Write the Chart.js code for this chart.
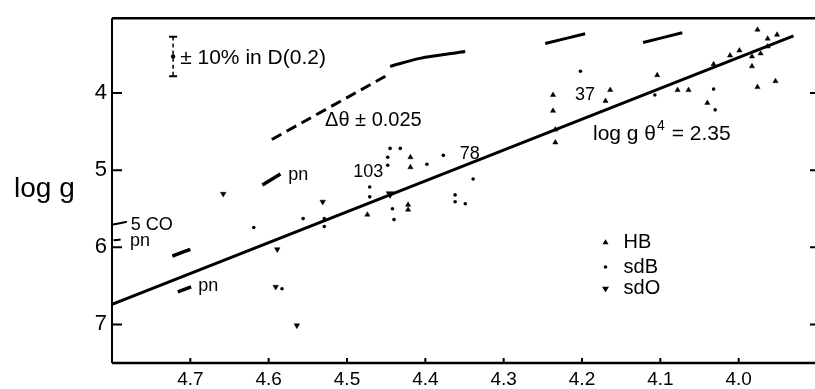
<!DOCTYPE html>
<html>
<head>
<meta charset="utf-8">
<script src="https://cdn.jsdelivr.net/npm/chart.js@4.4.1/dist/chart.umd.min.js"></script>
<style>
  html, body { margin: 0; padding: 0; background: #fff; overflow: hidden; }
  #wrap { width: 830px; height: 389px; }
</style>
</head>
<body>
<div id="wrap"><canvas id="c" width="830" height="389"></canvas></div>
<script>
// ---- axis ticks ----
const xTicks = [4.7, 4.6, 4.5, 4.4, 4.3, 4.2, 4.1, 4.0];
const yTicks = [4, 5, 6, 7];

// ---- HB stars (triangles): log Te, log g ----
const hbT = [4.237, 4.237, 4.234, 4.234, 4.170, 4.164, 4.104, 4.078, 4.064, 4.011, 3.999, 4.032, 3.983, 3.976, 3.953, 4.040, 3.951, 3.963, 3.963, 3.983, 3.972, 4.419, 4.419, 4.422, 4.422, 4.474, 3.976];
const hbG = [4.026, 4.231, 4.474, 4.641, 4.103, 3.962, 3.769, 3.962, 3.962, 3.513, 3.449, 3.628, 3.654, 3.923, 3.846, 4.128, 3.244, 3.295, 3.397, 3.526, 3.487, 4.833, 4.962, 5.449, 5.513, 5.577, 3.179];

// ---- sdB stars (dots) ----
const sdbT = [4.202, 4.107, 4.032, 4.030, 4.445, 4.432, 4.448, 4.398, 4.448, 4.471, 4.471, 4.339, 4.362, 4.349, 4.362, 4.529, 4.529, 4.556, 4.619, 4.442, 4.440, 4.377, 4.583];
const sdbG = [3.718, 4.026, 3.949, 4.218, 4.718, 4.718, 4.833, 4.923, 4.936, 5.218, 5.346, 5.115, 5.321, 5.436, 5.410, 5.628, 5.731, 5.628, 5.744, 5.500, 5.641, 4.808, 6.538];

// ---- sdO stars (inverted triangles) ----
const sdoT = [4.658, 4.531, 4.589, 4.591, 4.564, 4.445];
const sdoG = [5.308, 5.410, 6.026, 6.513, 7.013, 5.308];

// ---- fitted relation log g theta^4 = 2.35 ----
const fitT = [4.80, 3.93];
const fitG = [6.74, 3.26];

// ---- Delta theta = +-0.025 shifts (tracks) ----
const trackDashT = [4.596, 4.451];
const trackDashG = [4.603, 3.782];
const trackAT = [4.445, 4.407, 4.349];
const trackAG = [3.654, 3.551, 3.462];
const trackBT = [4.247, 4.196];
const trackBG = [3.359, 3.231];
const trackCT = [4.122, 4.072];
const trackCG = [3.346, 3.218];

// ---- planetary nuclei (pn) short tracks ----
const pn1T = [4.608, 4.585], pn1G = [5.192, 5.051];
const pn2T = [4.716, 4.699], pn2G = [6.577, 6.513];
const pn3T = [4.723, 4.700], pn3G = [6.115, 6.026];
const pn4T = [4.799, 4.781], pn4G = [5.705, 5.670];
const pn5T = [4.798, 4.789], pn5G = [5.910, 5.900];

// ---- error bar: +-10% in D(0.2) ----
const errT = [4.722, 4.722];
const errG = [3.269, 3.782];
const errMidG = [3.526];

const pts = (xs, ys) => xs.map((x, i) => ({ x: x, y: ys[i] }));

const lineDs = (xs, ys, w, dash) => ({
  type: 'line', data: pts(xs, ys), borderColor: '#000', borderWidth: w,
  borderDash: dash || [], pointRadius: 0, tension: 0.3, fill: false, showLine: true
});

const textPlugin = {
  id: 'decor',
  afterDraw(chart) {
    const ctx = chart.ctx, a = chart.chartArea;
    const xs = chart.scales.x, ys = chart.scales.y;
    const X = v => xs.getPixelForValue(v), Y = v => ys.getPixelForValue(v);
    ctx.save();
    ctx.strokeStyle = '#000'; ctx.fillStyle = '#000';
    // frame
    ctx.lineWidth = 2.5;
    ctx.beginPath();
    ctx.moveTo(a.left, a.top); ctx.lineTo(a.right, a.top);
    ctx.moveTo(a.left, a.bottom); ctx.lineTo(a.right, a.bottom);
    ctx.stroke();
    ctx.lineWidth = 2;
    ctx.beginPath(); ctx.moveTo(a.left, a.top); ctx.lineTo(a.left, a.bottom); ctx.stroke();
    ctx.beginPath(); ctx.moveTo(a.right, a.top); ctx.lineTo(a.right, a.bottom); ctx.stroke();
    // inward ticks
    ctx.lineWidth = 2;
    ctx.beginPath();
    yTicks.forEach(v => {
      const y = Y(v);
      ctx.moveTo(a.left, y); ctx.lineTo(a.left + 10, y);
      ctx.moveTo(a.right, y); ctx.lineTo(a.right - 7, y);
    });
    xTicks.forEach(v => {
      const x = X(v);
      ctx.moveTo(x, a.bottom); ctx.lineTo(x, a.bottom - 5);
    });
    ctx.stroke();
    // error bar caps
    ctx.lineWidth = 2;
    ctx.beginPath();
    const ex = X(errT[0]);
    ctx.moveTo(ex - 4, Y(errG[0])); ctx.lineTo(ex + 4, Y(errG[0]));
    ctx.moveTo(ex - 4, Y(errG[1])); ctx.lineTo(ex + 4, Y(errG[1]));
    ctx.stroke();

    const font = 'Liberation Sans, Arial, sans-serif';
    ctx.textBaseline = 'middle'; ctx.textAlign = 'left';
    const t = (s, x, y, size) => { ctx.font = size + 'px ' + font; ctx.fillText(s, X(x), Y(y)); };
    t('\u00B1 10% in D(0.2)', 4.713, 3.551, 21);
    t('\u0394\u03B8 \u00B1 0.025', 4.528, 4.359, 20);
    // log g theta^4 = 2.35
    ctx.font = '21px ' + font;
    let px = X(4.186), py = Y(4.538);
    const s1 = 'log g \u03B8';
    ctx.fillText(s1, px, py);
    px += ctx.measureText(s1).width;
    ctx.font = '14px ' + font;
    ctx.fillText('4', px + 1, py - 8);
    px += ctx.measureText('4').width + 2;
    ctx.font = '21px ' + font;
    ctx.fillText(' = 2.35', px, py);

    t('37', 4.209, 4.026, 18);
    t('78', 4.356, 4.795, 18);
    t('103', 4.492, 5.026, 18);
    t('5 CO', 4.776, 5.705, 18);
    t('pn', 4.777, 5.923, 18);
    t('pn', 4.575, 5.064, 18);
    t('pn', 4.690, 6.500, 18);

    // legend
    const lx = X(4.170);
    const lg = [[5.936, 'HB', 'tri'], [6.256, 'sdB', 'dot'], [6.538, 'sdO', 'inv']];
    lg.forEach(([g, lab, m]) => {
      const y = Y(g);
      ctx.beginPath();
      if (m === 'tri') { ctx.moveTo(lx, y - 3); ctx.lineTo(lx + 3, y + 2); ctx.lineTo(lx - 3, y + 2); ctx.closePath(); }
      else if (m === 'dot') { ctx.arc(lx, y, 1.8, 0, Math.PI * 2); }
      else { ctx.moveTo(lx - 3.5, y - 2); ctx.lineTo(lx + 3.5, y - 2); ctx.lineTo(lx, y + 3.5); ctx.closePath(); }
      ctx.fill();
      ctx.font = '20px ' + font;
      ctx.fillText(lab, X(4.147), y);
    });

    // y axis title (horizontal)
    ctx.font = '28px ' + font;
    ctx.textBaseline = 'alphabetic';
    ctx.fillText('log g', 14, 197);
    ctx.restore();
  }
};

new Chart(document.getElementById('c'), {
  type: 'scatter',
  data: {
    datasets: [
      lineDs(fitT, fitG, 3),
      lineDs(trackDashT, trackDashG, 3, [11, 6]),
      lineDs(trackAT, trackAG, 3),
      lineDs(trackBT, trackBG, 3),
      lineDs(trackCT, trackCG, 3),
      lineDs(pn1T, pn1G, 3.5),
      lineDs(pn2T, pn2G, 3.5),
      lineDs(pn3T, pn3G, 3.5),
      lineDs(pn4T, pn4G, 2),
      lineDs(pn5T, pn5G, 2),
      lineDs(errT, errG, 1.5, [4, 3]),
      { data: pts([errT[0]], errMidG), pointStyle: 'circle', pointRadius: 2.2, backgroundColor: '#000', borderWidth: 0 },
      { label: 'HB', data: pts(hbT, hbG), pointStyle: 'triangle', pointRadius: 3, backgroundColor: '#000', borderColor: '#000', borderWidth: 0.5 },
      { label: 'sdB', data: pts(sdbT, sdbG), pointStyle: 'circle', pointRadius: 1.8, backgroundColor: '#000', borderWidth: 0 },
      { label: 'sdO', data: pts(sdoT, sdoG), pointStyle: 'triangle', rotation: 180,
        pointRadius: sdoT.map((v, i) => i === sdoT.length - 1 ? 4.5 : 3.2), backgroundColor: '#000', borderColor: '#000', borderWidth: 0.5 }
    ]
  },
  options: {
    responsive: false,
    animation: false,
    devicePixelRatio: 1,
    layout: { padding: { top: 14, right: 13, left: 0, bottom: 0 } },
    plugins: { legend: { display: false }, tooltip: { enabled: false } },
    scales: {
      x: {
        type: 'linear', reverse: true, min: 3.9, max: 4.8,
        grid: { display: false, drawTicks: false },
        border: { display: false },
        afterBuildTicks: s => { s.ticks = xTicks.map(v => ({ value: v })); },
        afterFit: s => { s.height = 26; },
        ticks: { padding: 5, color: '#000', font: { family: 'Liberation Sans, Arial, sans-serif', size: 19 },
                 callback: v => v.toFixed(1), maxRotation: 0, autoSkip: false }
      },
      y: {
        type: 'linear', reverse: true, min: 3.03, max: 7.5,
        grid: { display: false, drawTicks: false },
        border: { display: false },
        afterBuildTicks: s => { s.ticks = yTicks.map(v => ({ value: v })); },
        afterFit: s => { s.width = 112; },
        ticks: { padding: 5, color: '#000', font: { family: 'Liberation Sans, Arial, sans-serif', size: 22 },
                 callback: v => String(v) }
      }
    }
  },
  plugins: [textPlugin]
});
</script>
</body>
</html>
